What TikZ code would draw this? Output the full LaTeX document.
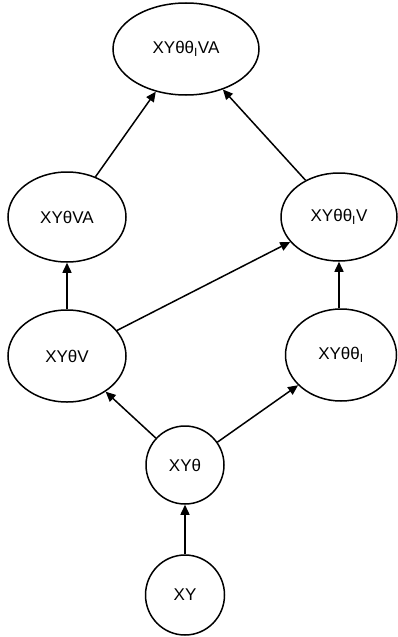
\documentclass[tikz,border=0pt]{standalone}
\usepackage{fontspec}
\setmainfont{Liberation Sans}
\usetikzlibrary{arrows.meta, shapes.geometric}

\tikzset{
    state/.style={draw, ellipse, line width=1.5pt, inner sep=0pt,
        font=\fontsize{17}{20}\selectfont},
    link/.style={line width=1.5pt, -{Triangle[length=10pt, width=9pt]}}
}

\begin{document}
\begin{tikzpicture}[x=1pt, y=-1pt]

                \useasboundingbox (0, 0) rectangle (397, 637);

                \node[state, minimum width=146pt, minimum height=92pt]
                    (xyttva) at (186, 49) {XYθθ\textsubscript{I}VA};

                \node[state, minimum width=118pt, minimum height=90pt]
                    (xytva) at (67, 217) {XYθVA};
                \node[state, minimum width=116pt, minimum height=88pt]
                    (xyttv) at (339, 217) {XYθθ\textsubscript{I}V};

                \node[state, minimum width=118pt, minimum height=92pt]
                    (xytv) at (67, 356) {XYθV};
                \node[state, minimum width=111pt, minimum height=92pt]
                    (xytt) at (341, 355) {XYθθ\textsubscript{I}};

                \node[state, minimum width=78pt, minimum height=78pt]
                    (xyt) at (185, 465) {XYθ};
                \node[state, minimum width=79pt, minimum height=80pt]
                    (xy) at (185, 595) {XY};

                \draw[link] (xy) -- (xyt);
                \draw[link] (xyt) -- (xytv);
                \draw[link] (xyt) -- (xytt);
                \draw[link] (xytv) -- (xytva);
                \draw[link] (xytv) -- (xyttv);
                \draw[link] (xytt.north -| xyttv) -- (xyttv);
                \draw[link] (xytva) -- (xyttva);
                \draw[link] (xyttv) -- (xyttva);

            \end{tikzpicture}
\end{document}
